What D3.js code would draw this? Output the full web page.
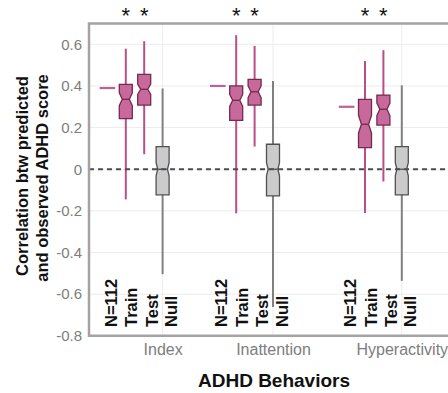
<!DOCTYPE html>
<html>
<head>
<meta charset="utf-8">
<script src="https://cdn.jsdelivr.net/npm/d3@7"></script>
<style>
  html, body { margin: 0; padding: 0; background: #fff; }
  svg { display: block; }
  text { font-family: "Liberation Sans", Arial, Helvetica, sans-serif; }
</style>
</head>
<body>
<svg id="chart" width="448" height="393"></svg>
<script>
// ADHD behaviour categories and their x positions (axis units)
const categories = ["Index", "Inattention", "Hyperactivity"];
const categoryX = [4, 10, 17];
const seriesLabels = ["N=112", "Train", "Test", "Null"];
const yTicks = [-0.8, -0.6, -0.4, -0.2, 0, 0.2, 0.4, 0.6];

// Full-sample (N=112) correlation per behaviour
const fullSampleR = [0.39, 0.40, 0.30];

// Train split distributions
const trainLo    = [-0.145, -0.212, -0.210];
const trainQ1    = [0.243, 0.235, 0.104];
const trainMed   = [0.336, 0.331, 0.216];
const trainQ3    = [0.408, 0.400, 0.336];
const trainHi    = [0.579, 0.644, 0.520];
const trainNotch = [0.031, 0.029, 0.043];

// Test split distributions
const testLo    = [0.072, 0.109, -0.059];
const testQ1    = [0.308, 0.308, 0.212];
const testMed   = [0.384, 0.372, 0.288];
const testQ3    = [0.456, 0.432, 0.356];
const testHi    = [0.615, 0.592, 0.572];
const testNotch = [0.025, 0.028, 0.030];

// Permutation null distributions
const nullLo    = [-0.504, -0.662, -0.536];
const nullQ1    = [-0.123, -0.128, -0.123];
const nullMed   = [0, 0, 0];
const nullQ3    = [0.109, 0.120, 0.109];
const nullHi    = [0.388, 0.424, 0.403];
const nullNotch = [0.032, 0.032, 0.032];

// Significance markers (train, test) per behaviour
const significant = [[true, true], [true, true], [true, true]];

const svg = d3.select("#chart");

const x = d3.scaleLinear().domain([0, 20]).range([89, 89 + 18.4 * 20]);
const y = d3.scaleLinear().domain([-0.8, 0.7]).range([335.8, 23.5]);

const pink = { fill: "#c76a9b", stroke: "#76294f", whisker: "#b84f88" };
const grey = { fill: "#cbcbcb", stroke: "#505050", whisker: "#808080" };

// Grid
const grid = svg.append("g");
grid.selectAll("line.h").data(yTicks).join("line")
  .attr("x1", x(0)).attr("x2", 448)
  .attr("y1", d => y(d)).attr("y2", d => y(d))
  .attr("stroke", "#ececec").attr("stroke-width", 1);
grid.selectAll("line.v").data(categoryX).join("line")
  .attr("x1", d => x(d)).attr("x2", d => x(d))
  .attr("y1", y(0.7)).attr("y2", y(-0.8))
  .attr("stroke", "#ececec").attr("stroke-width", 1);

// Y axis labels
const yAxis = d3.axisLeft(y).tickValues(yTicks).tickSize(0).tickPadding(7)
  .tickFormat(d => d === 0 ? "0" : d.toFixed(1));
const yg = svg.append("g").attr("transform", `translate(${x(0)},0)`).call(yAxis);
yg.select(".domain").remove();
yg.selectAll("text").attr("font-size", 15).attr("fill", "#7d7d7d")
  .attr("font-family", "Liberation Sans, Arial, sans-serif");

// X category labels
const xAxis = d3.axisBottom(x).tickValues(categoryX).tickSize(0).tickPadding(8)
  .tickFormat((d, i) => categories[i]);
const xg = svg.append("g").attr("transform", `translate(0,${y(-0.8)})`).call(xAxis);
xg.select(".domain").remove();
xg.selectAll("text").attr("font-size", 16).attr("fill", "#7d7d7d")
  .attr("font-family", "Liberation Sans, Arial, sans-serif");

// Box drawing helper (notched box plot)
function notchedPath(cx, hw, q1, med, q3, notch, depth) {
  const l = x(cx) - hw, r = x(cx) + hw, inset = hw * depth;
  const yq1 = y(q1), yq3 = y(q3), ym = y(med);
  const nTop = y(Math.min(med + notch, q3)), nBot = y(Math.max(med - notch, q1));
  return `M${l},${yq3}L${r},${yq3}L${r},${nTop}L${r - inset},${ym}L${r},${nBot}` +
         `L${r},${yq1}L${l},${yq1}L${l},${nBot}L${l + inset},${ym}L${l},${nTop}Z`;
}

function drawBoxes(offset, lo, q1, med, q3, hi, notch, col, depth) {
  const g = svg.append("g");
  const d = categoryX.map((c, i) => ({ cx: c + offset, lo: lo[i], q1: q1[i], med: med[i], q3: q3[i], hi: hi[i], notch: notch[i] }));
  g.selectAll("line.w").data(d).join("line")
    .attr("x1", e => x(e.cx)).attr("x2", e => x(e.cx))
    .attr("y1", e => y(e.hi)).attr("y2", e => y(e.lo))
    .attr("stroke", col.whisker).attr("stroke-width", 2);
  g.selectAll("path.b").data(d).join("path")
    .attr("d", e => notchedPath(e.cx, 6.5, e.q1, e.med, e.q3, e.notch, depth))
    .attr("fill", col.fill).attr("stroke", col.stroke).attr("stroke-width", 1.3);
  g.selectAll("line.m").data(d).join("line")
    .attr("x1", e => x(e.cx) - 6.5 + 6.5 * depth).attr("x2", e => x(e.cx) + 6.5 - 6.5 * depth)
    .attr("y1", e => y(e.med)).attr("y2", e => y(e.med))
    .attr("stroke", col.stroke).attr("stroke-width", 1.3);
}

// Full-sample correlation markers
svg.append("g").selectAll("line").data(fullSampleR).join("line")
  .attr("x1", (d, i) => x(categoryX[i] - 3) - 7.8)
  .attr("x2", (d, i) => x(categoryX[i] - 3) + 7.8)
  .attr("y1", d => y(d)).attr("y2", d => y(d))
  .attr("stroke", "#b86593").attr("stroke-width", 2.2);

drawBoxes(-2, trainLo, trainQ1, trainMed, trainQ3, trainHi, trainNotch, pink, 0.45);
drawBoxes(-1, testLo, testQ1, testMed, testQ3, testHi, testNotch, pink, 0.45);
drawBoxes(0, nullLo, nullQ1, nullMed, nullQ3, nullHi, nullNotch, grey, 0.25);

// Zero reference line
svg.append("line")
  .attr("x1", x(0)).attr("x2", 448).attr("y1", y(0)).attr("y2", y(0))
  .attr("stroke", "#4a4f55").attr("stroke-width", 2).attr("stroke-dasharray", "5,4");

// Axes frame
svg.append("path")
  .attr("d", `M448,${y(0.7)}L${x(0)},${y(0.7)}L${x(0)},${y(-0.8)}L448,${y(-0.8)}`)
  .attr("fill", "none").attr("stroke", "#a3a3a3").attr("stroke-width", 2.5);

// Rotated series labels
const labelShift = [9.5, 11.5, 13.5, 14.5];
categoryX.forEach(c => {
  seriesLabels.forEach((lab, i) => {
    const bx = x(c - 3 + i) + labelShift[i];
    svg.append("text")
      .attr("transform", `translate(${bx},327) rotate(-90)`)
      .attr("font-size", 16.5).attr("font-weight", "bold").attr("fill", "#111")
      .text(lab);
  });
});

// Significance asterisks above train/test
categoryX.forEach((c, i) => {
  significant[i].forEach((s, j) => {
    if (!s) return;
    svg.append("text")
      .attr("x", x(c - 2 + j)).attr("y", 23)
      .attr("text-anchor", "middle").attr("font-size", 22)
      .attr("fill", "#111").text("*");
  });
});

// Axis titles
svg.append("text")
  .attr("transform", "translate(28,176) rotate(-90)")
  .attr("text-anchor", "middle").attr("font-size", 16.5).attr("font-weight", "bold").attr("fill", "#111")
  .text("Correlation btw predicted");
svg.append("text")
  .attr("transform", "translate(48,178) rotate(-90)")
  .attr("text-anchor", "middle").attr("font-size", 16.5).attr("font-weight", "bold").attr("fill", "#111")
  .text("and observed ADHD score");
svg.append("text")
  .attr("x", 274).attr("y", 387)
  .attr("text-anchor", "middle").attr("font-size", 19).attr("font-weight", "bold").attr("fill", "#111")
  .text("ADHD Behaviors");
</script>
</body>
</html>
